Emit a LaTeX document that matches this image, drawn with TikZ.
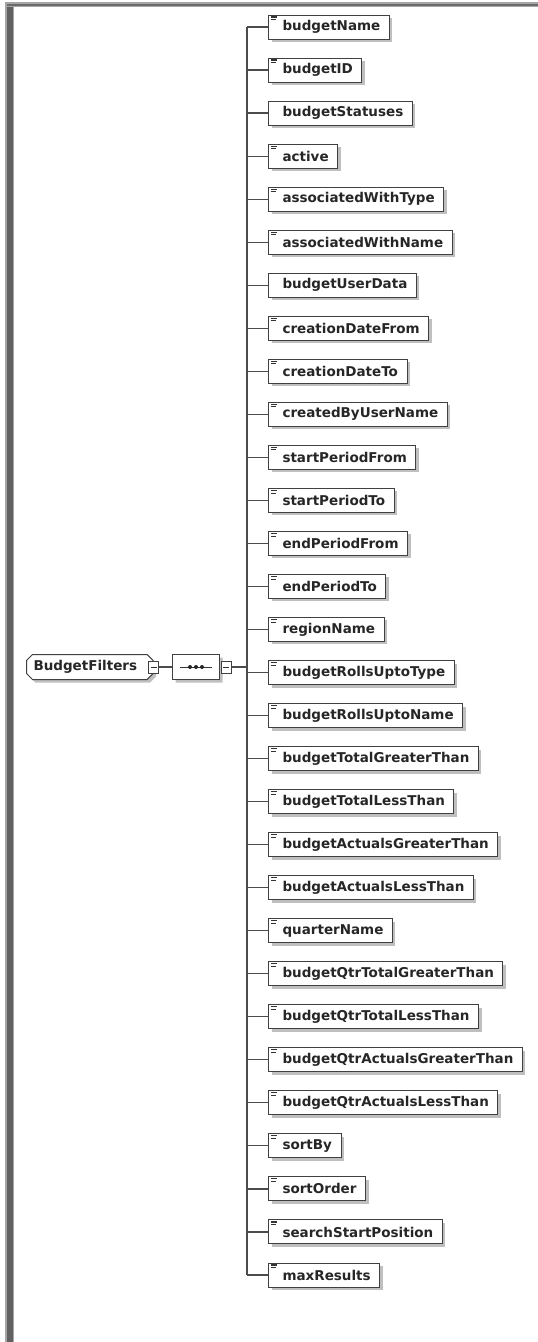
\documentclass[tikz,border=0pt]{standalone}
\usepackage{fontspec}
\setsansfont{DejaVu Sans}
\usetikzlibrary{shapes.misc,shadows,calc}

\tikzset{
  x=1pt, y=-1pt,
  lbl/.style={font=\sffamily\bfseries\fontsize{13.5}{15}\selectfont, text=black!85},
  boxshadow/.style={drop shadow={shadow xshift=3pt, shadow yshift=-3pt, opacity=1, fill=black!25}},
  wire/.style={draw=black!70, line width=1.2pt},
  elem/.style={lbl, draw=black!75, line width=1pt, fill=white, boxshadow,
    minimum height=24pt, inner xsep=0pt, inner ysep=0pt, anchor=west,
    execute at begin node=\hspace*{14pt}, execute at end node=\hspace*{9pt}},
  rootbox/.style={lbl, chamfered rectangle, chamfered rectangle xsep=3pt,
    chamfered rectangle ysep=3pt, draw=black!75, line width=1pt, fill=white, boxshadow,
    minimum height=25pt, inner xsep=1pt, inner ysep=0pt, anchor=west,
    execute at begin node=\hspace*{3pt}, execute at end node=\hspace*{12pt}},
  seqbox/.style={chamfered rectangle, chamfered rectangle xsep=7pt,
    chamfered rectangle ysep=7pt, draw=black!75, line width=1pt, fill=white, boxshadow,
    minimum width=47pt, minimum height=25pt, inner sep=0pt, anchor=west},
  toggle/.style={rectangle, draw=black!75, line width=0.9pt, fill=white,
    minimum width=10pt, minimum height=12pt, inner sep=0pt},
  textmark/.style={draw=black!80, line width=1.1pt},
}

\begin{document}
\begin{tikzpicture}
  \useasboundingbox (0,0) rectangle (538,1342);
  \fill[white] (0,0) rectangle (538,1342);

  % window frame: left and top bars
  \fill[black!35] (5,2) rectangle (14,1342);
  \fill[black!62] (7,4) rectangle (12.5,1342);
  \fill[black!35] (5,2) rectangle (538,7);
  \fill[black!58] (7,3.5) rectangle (538,5.5);

  % complex type and its sequence compositor
  \node[rootbox] (root) at (26,667) {BudgetFilters};
  \node[toggle] (c1) at (root.east) {};
  \draw[line width=1pt, black!80] ($(c1.center)+(-3,0)$) -- ($(c1.center)+(3,0)$);

  \node[seqbox] (seq) at (172,667) {};
  \draw[line width=1pt, black!80] ($(seq.center)+(-16,0)$) -- ($(seq.center)+(16,0)$);
  \foreach \dx in {-6,0,6}
    \fill[black!85] ($(seq.center)+(\dx,0)$) circle (2pt);
  \node[toggle, anchor=west] (c2) at ($(seq.east)+(1,0)$) {};
  \draw[line width=1pt, black!80] ($(c2.center)+(-3,0)$) -- ($(c2.center)+(3,0)$);

  \draw[wire] (c1.east) -- (seq.west);

  % spine of the sequence
  \coordinate (spine) at (247,667);
  \coordinate (spinetop) at (247,27);
  \coordinate (spinebot) at (247,1275);
  \draw[wire] (c2.east) -- (spine);
  \draw[wire] (spinetop) -- (spinebot);

  % child elements (1 = simple content marker)
  \foreach \name/\mark [count=\i] in {
    budgetName/1, budgetID/1, budgetStatuses/0, active/1,
    associatedWithType/1, associatedWithName/1, budgetUserData/0,
    creationDateFrom/1, creationDateTo/1, createdByUserName/1,
    startPeriodFrom/1, startPeriodTo/1, endPeriodFrom/1, endPeriodTo/1,
    regionName/1, budgetRollsUptoType/1, budgetRollsUptoName/1,
    budgetTotalGreaterThan/1, budgetTotalLessThan/1,
    budgetActualsGreaterThan/1, budgetActualsLessThan/1, quarterName/1,
    budgetQtrTotalGreaterThan/1, budgetQtrTotalLessThan/1,
    budgetQtrActualsGreaterThan/1, budgetQtrActualsLessThan/1,
    sortBy/1, sortOrder/1, searchStartPosition/1, maxResults/1}
  {
    \pgfmathsetmacro{\yy}{27 + (\i-1)*43.034}
    \node[elem] (e\i) at (268,\yy) {\name};
    \draw[wire] (e\i.west) -- (e\i.west -| spine);
    \ifnum\mark=1
      \draw[textmark] ($(e\i.north west)+(3,2.5)$) -- ($(e\i.north west)+(9,2.5)$);
      \draw[textmark, line width=0.7pt] ($(e\i.north west)+(3,5)$) -- ($(e\i.north west)+(8,5)$);
    \fi
  }
\end{tikzpicture}
\end{document}
